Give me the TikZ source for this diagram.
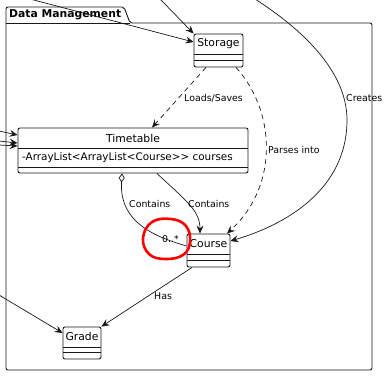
\documentclass[tikz,border=0pt]{standalone}
\usepackage{fontspec}
\setmainfont{DejaVu Sans}
\usetikzlibrary{arrows.meta,calc}
\definecolor{ink}{HTML}{181818}
\tikzset{
  classbox/.style={draw=ink, line width=0.9pt, rounded corners=2pt, fill=white, inner sep=0pt},
  classname/.style={font=\fontsize{10.8}{12}\selectfont, inner sep=0pt},
  attr/.style={font=\fontsize{10.4}{12}\selectfont, inner sep=0pt},
  sep/.style={draw=ink, line width=0.8pt},
  rel/.style={draw=ink, line width=0.7pt},
  tip/.style={-{Stealth[length=8pt,width=7pt,inset=3pt]}},
  lbl/.style={font=\fontsize{9.4}{11}\selectfont, inner sep=0pt, anchor=west},
}
\begin{document}
\begin{tikzpicture}[x=1pt,y=-1pt]
\useasboundingbox (0,0) rectangle (385,378);

% package frame with its tab
\draw[ink, line width=0.9pt, rounded corners=2pt]
  (6,370) -- (6,7) -- (124,7) -- (130,23) -- (372,23) -- (372,370) -- cycle;
\draw[ink, line width=0.9pt] (6,23) -- (130,23);
\node[anchor=west, inner sep=0pt, font=\bfseries\fontsize{10.8}{12}\selectfont] (pkg) at (9,15) {Data Management};

% Storage
\node[classbox, minimum width=49pt, minimum height=33pt] (storage) at (218.5,50.5) {};
\node[classname] (storagename) at (218.5,44) {Storage};
\draw[sep] (194,54) -- (243,54);
\draw[sep] (194,60) -- (243,60);

% Timetable
\node[classbox, minimum width=230pt, minimum height=45pt] (timetable) at (133,150.5) {};
\node[classname] (timetablename) at (133,138) {Timetable};
\draw[sep] (18,148) -- (248,148);
\node[attr, anchor=west] (courses) at (22,158) {-ArrayList<ArrayList<Course>{}> courses};
\draw[sep] (18,167) -- (248,167);

% Course
\node[classbox, minimum width=43pt, minimum height=33pt] (course) at (208.5,250.5) {};
\node[classname] (coursename) at (208.5,244) {Course};
\draw[sep] (187,254) -- (230,254);
\draw[sep] (187,260) -- (230,260);

% Grade
\node[classbox, minimum width=38pt, minimum height=32pt] (grade) at (82,343) {};
\node[classname] (gradename) at (82,336) {Grade};
\draw[sep] (63,347) -- (101,347);
\draw[sep] (63,352) -- (101,352);

% free ends of connectors coming from outside the package
\coordinate (inA) at (30,-1);
\coordinate (inB) at (160,-1);
\coordinate (inC) at (255,-1);
\coordinate (inT1) at (-1,131);
\coordinate (inT2) at (-1,141);
\coordinate (inT3) at (-1,145);
\coordinate (inG) at (-1,295);

% incoming connectors
\draw[rel, tip] (inA) -- (storage.west |- 0,42);
\draw[rel, tip] (inB) -- (storage.north west);
\draw[rel, tip] (inT1) -- (timetable.west |- 0,135);
\draw[rel, tip] (inT2) -- (timetable.west |- 0,143);
\draw[rel, tip] (inT3) -- (timetable.west |- 0,146);
\draw[rel, tip] (inG) -- (grade.west |- 0,333);

% Creates
\draw[rel, tip] (inC) .. controls (300,28) and (347,70) .. (347,120)
  .. controls (347,190) and (285,225) .. (course.east |- 0,241);
\node[lbl] (creates) at (346,98) {Creates};

% Loads/Saves
\draw[rel, dashed, dash pattern=on 5pt off 4pt, tip] (storage.south -| 206,0) -- (timetable.north -| 152,0);
\node[lbl] (loads) at (184,98) {Loads/Saves};

% Parses into
\draw[rel, dashed, dash pattern=on 5pt off 4pt, tip] (storage.south -| 236,0)
  .. controls (275,110) and (280,185) .. (course.north -| 227,0);
\node[lbl] (parses) at (268,150) {Parses into};

% aggregation Timetable <>-- Course
\draw[rel, {Diamond[open,length=9pt,width=6pt]}-] (timetable.south -| 122,0)
  .. controls (119,225) and (160,238) .. (course.west |- 0,246);
\node[lbl] (contains1) at (129,204) {Contains};
\node[lbl] (mult) at (162,239) {0..*};

% Timetable contains Course
\draw[rel, tip] (timetable.south -| 157,0) .. controls (185,200) and (200,210) .. (course.north -| 200,0);
\node[lbl] (contains2) at (188,204) {Contains};

% Has
\draw[rel, tip] (course.south -| 192,0) -- (grade.north east);
\node[lbl] (has) at (154,296) {Has};

% red hand-drawn loop around the multiplicity
\draw[red, line width=2.6pt, line cap=round]
  plot[smooth cycle, tension=0.7] coordinates
  {(152,222) (171,219) (186,226) (190,242) (183,255) (165,259) (149,254) (143,238)};
\end{tikzpicture}
\end{document}
